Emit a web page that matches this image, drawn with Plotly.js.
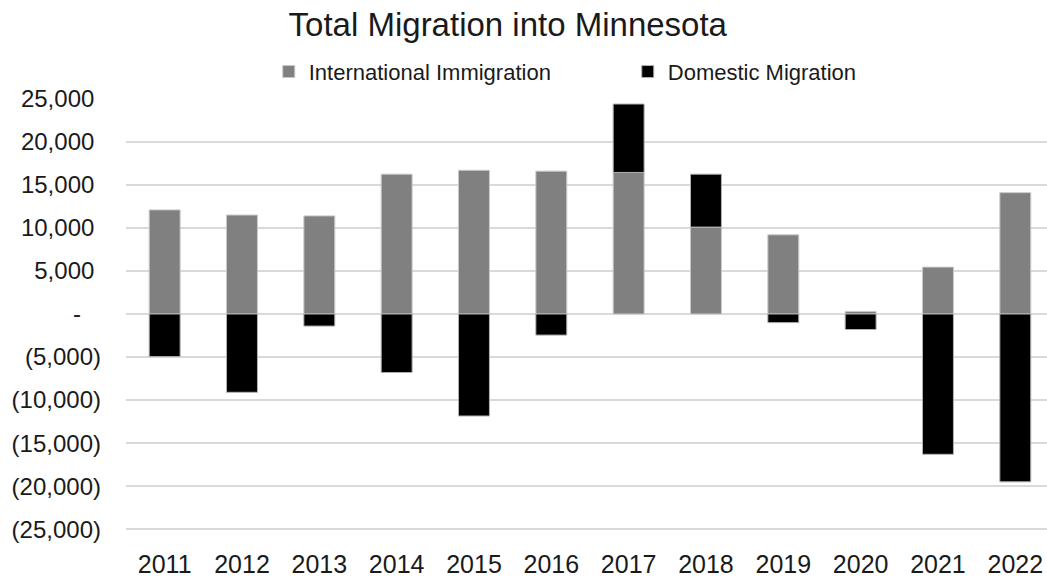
<!DOCTYPE html>
<html>
<head>
<meta charset="utf-8">
<script src="https://cdn.plot.ly/plotly-3.0.1.min.js"></script>
<style>html,body{margin:0;padding:0;background:#fff;}#chart{width:1047px;height:579px;}</style>
</head>
<body>
<div id="chart"></div>
<script>
var years = ['2011','2012','2013','2014','2015','2016','2017','2018','2019','2020','2021','2022'];
var international = [12100, 11500, 11400, 16250, 16700, 16600, 16450, 10100, 9200, 300, 5450, 14100];
var domestic = [-4950, -9100, -1400, -6800, -11850, -2450, 7950, 6150, -1000, -1800, -16300, -19500];
var yTickVals = [25000, 20000, 15000, 10000, 5000, 0, -5000, -10000, -15000, -20000, -25000];
var yTickText = ['25,000\u00a0', '20,000\u00a0', '15,000\u00a0', '10,000\u00a0', '5,000\u00a0', '-\u00a0\u00a0\u00a0', '(5,000)', '(10,000)', '(15,000)', '(20,000)', '(25,000)'];

var font = 'Liberation Sans, Arial, sans-serif';
var traces = [
  {type: 'bar', name: 'International Immigration', x: years, y: international,
   marker: {color: '#808080', line: {color: '#c8c8c8', width: 1}}},
  {type: 'bar', name: 'Domestic Migration', x: years, y: domestic,
   marker: {color: '#000000', line: {color: '#b0b0b0', width: 1}}}
];
var layout = {
  width: 1047, height: 579,
  margin: {l: 126, r: 0, t: 98, b: 47, pad: 0},
  paper_bgcolor: '#ffffff', plot_bgcolor: '#ffffff',
  barmode: 'relative', bargap: 0.6,
  font: {family: font, color: '#1a1a1a'},
  title: {text: 'Total Migration into Minnesota', font: {family: font, size: 33, color: '#1a1a1a'},
          xref: 'container', yref: 'container', x: 0.485, xanchor: 'center', y: 1 - 24/579, yanchor: 'middle'},
  showlegend: true,
  legend: {orientation: 'h', x: 0.155, xanchor: 'left', y: 1.0605, yanchor: 'middle',
           font: {family: font, size: 22, color: '#1a1a1a'}, itemwidth: 30,
           entrywidth: 314, entrywidthmode: 'pixels', bgcolor: 'rgba(0,0,0,0)'},
  xaxis: {type: 'category', range: [-0.5, 11.41], showgrid: false, zeroline: false, showline: false,
          ticks: '', tickfont: {family: font, size: 25, color: '#1a1a1a'}, automargin: false,
          ticklabelstandoff: 15, fixedrange: true},
  yaxis: {range: [-25330, 25100], tickvals: yTickVals, ticktext: yTickText, showgrid: true,
          gridcolor: '#d9d9d9', gridwidth: 1.5, zeroline: true, zerolinecolor: '#d9d9d9', zerolinewidth: 1.5,
          showline: false, ticks: '', tickfont: {family: font, size: 24, color: '#1a1a1a'},
          automargin: false, ticklabelstandoff: 24, fixedrange: true}
};
Plotly.newPlot('chart', traces, layout, {displayModeBar: false, staticPlot: true});
</script>
</body>
</html>
